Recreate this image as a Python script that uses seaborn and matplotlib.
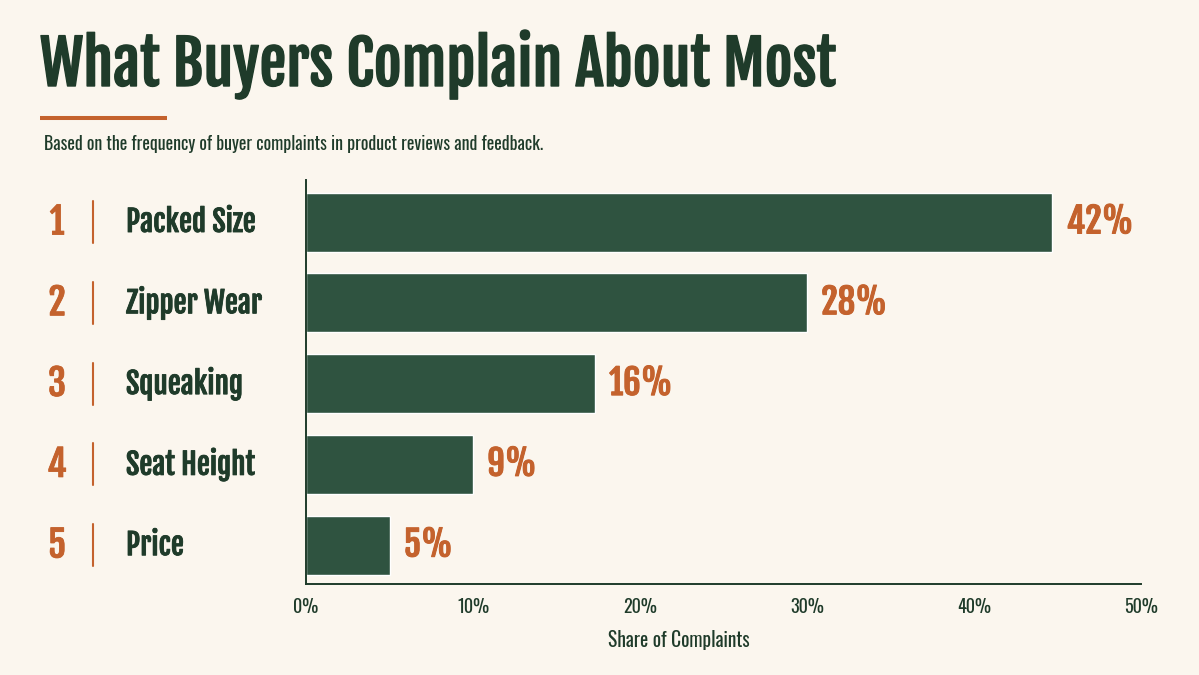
import matplotlib
matplotlib.use("Agg")
import matplotlib.pyplot as plt
import matplotlib.transforms as mtransforms
import matplotlib.patheffects as pe
import pandas as pd
import seaborn as sns

# data
categories = ["Packed Size", "Zipper Wear", "Squeaking", "Seat Height", "Price"]
ranks = ["1", "2", "3", "4", "5"]
bar_values = [44.7, 30.0, 17.3, 10.0, 5.0]
value_labels = ["42%", "28%", "16%", "9%", "5%"]
x_ticks = [0, 10, 20, 30, 40, 50]
x_tick_labels = ["0%", "10%", "20%", "30%", "40%", "50%"]

title = "What Buyers Complain About Most"
subtitle = "Based on the frequency of buyer complaints in product reviews and feedback."
xlabel = "Share of Complaints"

BG = "#FBF6EE"
GREEN = "#2F5340"
DARK = "#1F3B2A"
ORANGE = "#C4622D"

HEAVY = ["Fjalla One", "DejaVu Sans"]
LIGHT = ["Oswald", "DejaVu Sans"]


def bolder(color, w):
    # thicken the strokes a little, Fjalla One only comes in one weight
    return [pe.withStroke(linewidth=w, foreground=color)]


sns.set_theme(style="white")
plt.rcParams["font.family"] = LIGHT

df = pd.DataFrame({"category": categories, "value": bar_values})

fig = plt.figure(figsize=(11.99, 6.75), dpi=100, facecolor=BG)
ax = fig.add_axes([306 / 1199, 91 / 675, 835 / 1199, 404 / 675])
ax.set_facecolor(BG)

sns.barplot(data=df, x="value", y="category", orient="h", color=GREEN,
            width=0.73, saturation=1, ax=ax)

ax.set_xlim(0, 50)
ax.set_ylim(4.48, -0.52)
ax.set_xticks(x_ticks)
ax.set_xticklabels(x_tick_labels, fontsize=13, color=DARK, family=LIGHT)
ax.tick_params(axis="x", length=6, width=1.2, color=DARK, pad=4)
ax.set_yticks([])
ax.set_ylabel("")
ax.set_xlabel("")

for side in ["top", "right"]:
    ax.spines[side].set_visible(False)
for side in ["left", "bottom"]:
    ax.spines[side].set_color(DARK)
    ax.spines[side].set_linewidth(1.4)

# rank numbers, dividers, category names on the left
trans = mtransforms.blended_transform_factory(fig.transFigure, ax.transData)
for i, (rank, cat) in enumerate(zip(ranks, categories)):
    ax.text(57 / 1199, i, rank, transform=trans, ha="center", va="center",
            fontsize=26, color=ORANGE, family=HEAVY,
            path_effects=bolder(ORANGE, 0.6))
    ax.plot([93 / 1199, 93 / 1199], [i - 0.26, i + 0.26], transform=trans,
            color=ORANGE, lw=1.5, clip_on=False)
    ax.text(126 / 1199, i, cat, transform=trans, ha="left", va="center",
            fontsize=21, color=DARK, family=HEAVY,
            path_effects=bolder(DARK, 0.6))

# value labels at bar ends
for i, (val, lab) in enumerate(zip(bar_values, value_labels)):
    ax.text(val + 0.85, i, lab, ha="left", va="center",
            fontsize=25, color=ORANGE, family=HEAVY,
            path_effects=bolder(ORANGE, 0.7))

fig.text(40 / 1199, 1 - 64.5 / 675, title, ha="left", va="center",
         fontsize=43.5, color=DARK, family=HEAVY,
         path_effects=bolder(DARK, 1.0))
fig.add_artist(plt.Line2D([40 / 1199, 167 / 1199], [1 - 117.5 / 675, 1 - 117.5 / 675],
                          color=ORANGE, lw=2.9, solid_capstyle="butt"))
fig.text(44 / 1199, 1 - 144 / 675, subtitle, ha="left", va="center",
         fontsize=12.8, color=DARK, family=LIGHT)
fig.text(679 / 1199, 1 - 640 / 675, xlabel, ha="center", va="center",
         fontsize=14, color=DARK, family=LIGHT)

fig.savefig("out.png", dpi=100, facecolor=BG)
